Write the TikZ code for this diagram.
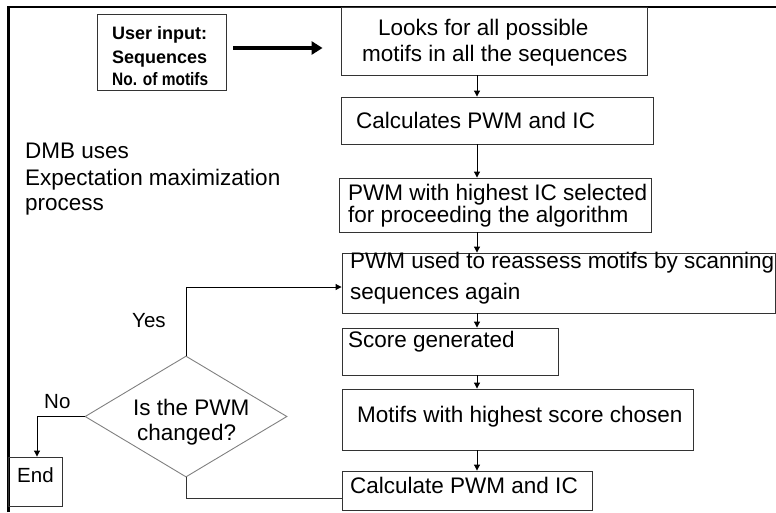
\documentclass[tikz,border=0pt]{standalone}
\usepackage{fontspec}
\setmainfont{Liberation Sans}
\usetikzlibrary{arrows.meta,shapes.geometric}
\begin{document}
\begin{tikzpicture}[x=1pt,y=-1pt,
  box/.style={draw=black!80, line width=0.9pt, inner sep=0pt, rectangle},
  dbox/.style={draw=black!50, line width=0.9pt, inner sep=0pt, diamond},
  txt/.style={anchor=base west, inner sep=0pt, font=\fontsize{22.5}{26}\selectfont},
  btxt/.style={anchor=base west, inner sep=0pt, font=\fontsize{18}{22}\selectfont\bfseries},
  stxt/.style={anchor=base west, inner sep=0pt, font=\fontsize{20.5}{24}\selectfont},
  conn/.style={draw=black, line width=1pt, -{Triangle[length=6pt,width=6pt]}},
  link/.style={draw=black!80, line width=0.9pt},
  bigarrow/.style={draw=black, line width=4.5pt, -{Triangle[length=11pt,width=13pt]}},
  frame/.style={draw=black, line width=2.6pt}
]
\useasboundingbox (0,0) rectangle (776,512);

% outer frame (top and left)
\draw[frame] (8.5,512) -- (8.5,7) -- (776,7);

% boxes
\node[box, minimum width=129pt, minimum height=76pt] (user) at (161.5,52) {};
\node[box, minimum width=306pt, minimum height=68pt] (b1) at (494,41) {};
\node[box, minimum width=312pt, minimum height=47pt] (b2) at (497,120.5) {};
\node[box, minimum width=312pt, minimum height=54pt] (b3) at (495,205) {};
\node[box, minimum width=433pt, minimum height=60pt] (b4) at (558.5,283) {};
\node[box, minimum width=216pt, minimum height=47pt] (b5) at (450,351.5) {};
\node[box, minimum width=351pt, minimum height=61pt] (b6) at (517.5,419.5) {};
\node[box, minimum width=250pt, minimum height=39pt] (b7) at (467,490.5) {};
\node[box, minimum width=54pt, minimum height=49pt] (endb) at (35,481.5) {};
\node[dbox, minimum width=202pt, minimum height=121pt] (dia) at (186,416.5) {};

% texts
\node[btxt] (u1) at (112,39) {User input:};
\node[btxt] (u2) at (112,63) {Sequences};
\node[btxt] (u3) at (112,85) {\scalebox{0.86}[1]{No. of motifs}};

\node[txt] (t1a) at (378,35) {Looks for all possible};
\node[txt] (t1b) at (362,61) {motifs in all the sequences};
\node[txt] (t2) at (356,128) {Calculates PWM and IC};
\node[txt] (t3a) at (348,200) {PWM with highest IC selected};
\node[txt] (t3b) at (348,222) {for proceeding the algorithm};
\node[txt] (t4a) at (350,268) {PWM used to reassess motifs by scanning};
\node[txt] (t4b) at (350,299) {sequences again};
\node[txt] (t5) at (348,347) {Score generated};
\node[txt] (t6) at (357,422) {Motifs with highest score chosen};
\node[txt] (t7) at (350,493) {Calculate PWM and IC};

\node[txt] (d1) at (25,158) {DMB uses};
\node[txt] (d2) at (25,185) {Expectation maximization};
\node[txt] (d3) at (25,210) {process};

\node[txt] (q1) at (133,415) {Is the PWM};
\node[txt] (q2) at (137,440) {changed?};

\node[stxt] (yes) at (132,327) {Yes};
\node[stxt] (no) at (44,408) {No};
\node[stxt] (endt) at (17,482) {End};

% connectors
\coordinate (ax) at (477,0);
\draw[bigarrow, shorten <=7pt, shorten >=18pt] ([yshift=4pt]user.east) -- ([yshift=4pt]user.east -| b1.west);
\draw[conn] (b1.south -| ax) -- (b2.north -| ax);
\draw[conn] (b2.south -| ax) -- (b3.north -| ax);
\draw[conn] (b3.south -| ax) -- (b4.north -| ax);
\draw[conn] (b4.south -| ax) -- (b5.north -| ax);
\draw[conn] (b5.south -| ax) -- (b6.north -| ax);
\draw[conn] (b6.south -| ax) -- (b7.north -| ax);

\draw[conn] (dia.north) |- ([yshift=-4pt]b4.west);
\draw[conn] (dia.west) -| ([xshift=2pt]endb.north);
\draw[link] (dia.south) |- ([yshift=-7.5pt]b7.west);
\end{tikzpicture}
\end{document}
